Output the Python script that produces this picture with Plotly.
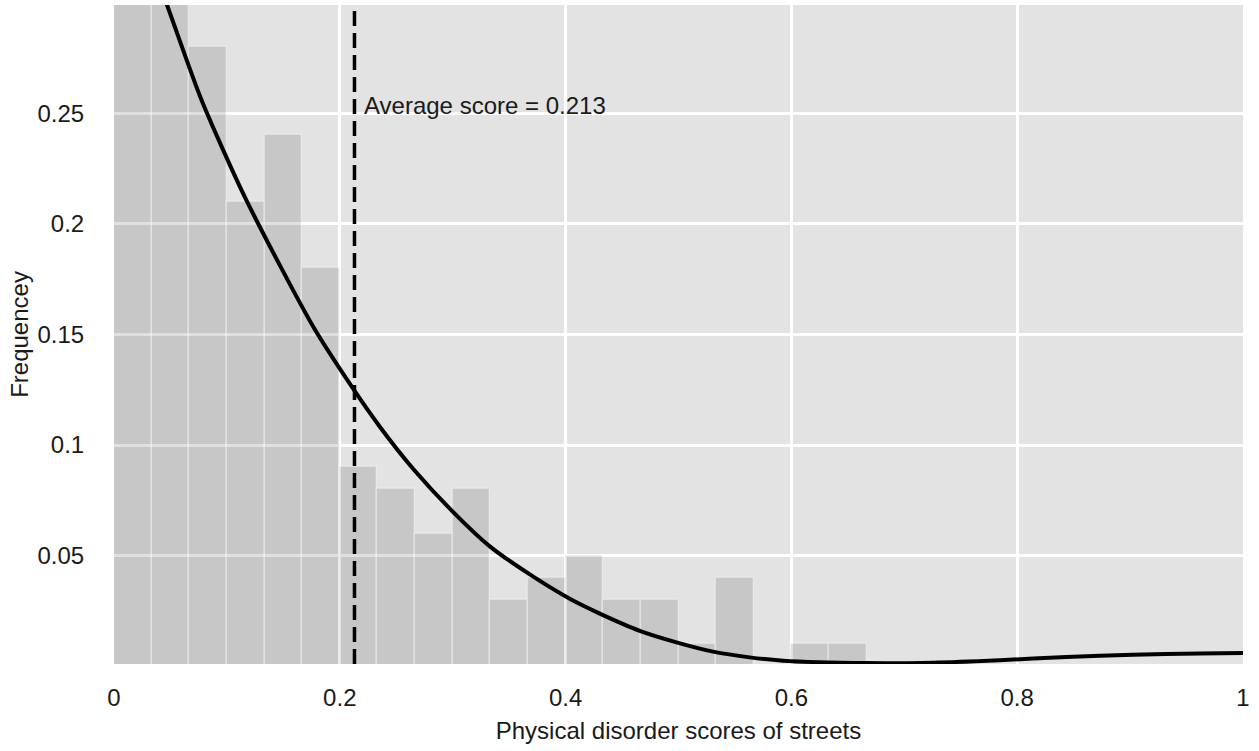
import plotly.graph_objects as go

# ---- data ----
bin_width = 1 / 30
bin_starts = [i / 30 for i in range(30)]
frequency = [0.36, 0.33, 0.28, 0.21, 0.24, 0.18, 0.09, 0.08, 0.06, 0.08,
             0.03, 0.04, 0.05, 0.03, 0.03, 0.01, 0.04, 0.0, 0.01, 0.01,
             0, 0, 0, 0, 0, 0, 0, 0, 0, 0]

curve_x = [0.0, 0.047, 0.0777, 0.117, 0.1765, 0.2118, 0.2356, 0.2649,
           0.2989, 0.3329, 0.3683, 0.4037, 0.4303, 0.4657, 0.4982, 0.5306,
           0.5631, 0.5927, 0.6665, 0.7255, 0.7846, 0.8437, 0.9027, 0.9617,
           1.0]
curve_y = [0.365, 0.299, 0.2558, 0.211, 0.1535, 0.1255, 0.1082, 0.0893,
           0.0705, 0.0542, 0.0415, 0.0305, 0.0238, 0.0160, 0.0108, 0.0066,
           0.0040, 0.0025, 0.0014, 0.0016, 0.0027, 0.0042, 0.0052, 0.0058,
           0.0060]

mean_score = 0.213
x_ticks = [0, 0.2, 0.4, 0.6, 0.8, 1]
x_tick_text = ["0", "0.2", "0.4", "0.6", "0.8", "1"]
y_ticks = [0.05, 0.1, 0.15, 0.2, 0.25]
y_tick_text = ["0.05", "0.1", "0.15", "0.2", "0.25"]

FONT = "Liberation Sans, Arial, sans-serif"

fig = go.Figure()
fig.add_trace(go.Bar(
    x=[s + bin_width / 2 for s in bin_starts],
    y=frequency,
    width=bin_width,
    marker=dict(color="rgba(0,0,0,0.12)",
                line=dict(color="rgba(255,255,255,0.35)", width=1.5)),
    showlegend=False,
    hoverinfo="skip",
))
fig.add_trace(go.Scatter(
    x=curve_x, y=curve_y, mode="lines",
    line=dict(color="black", width=4, shape="spline", smoothing=0.7),
    showlegend=False,
))
fig.add_shape(type="line", x0=mean_score, x1=mean_score, y0=0, y1=1,
              xref="x", yref="paper",
              line=dict(color="black", width=3.5, dash="15px,7px"))
fig.add_annotation(x=mean_score + 0.007, y=0.2536, xref="x", yref="y",
                   text=f"Average score = {mean_score:.3f}", showarrow=False,
                   xanchor="left", yanchor="middle",
                   font=dict(family=FONT, size=24, color="#1a1a1a"))

fig.update_layout(
    width=1259, height=751,
    margin=dict(l=114, r=16, t=5, b=87),
    paper_bgcolor="white",
    plot_bgcolor="#e3e3e3",
    bargap=0,
    font=dict(family=FONT, size=24, color="#1a1a1a"),
    xaxis=dict(range=[0, 1], tickvals=x_ticks, ticktext=x_tick_text,
               showgrid=True, gridcolor="white", gridwidth=3,
               zeroline=False, showline=False,
               ticks="outside", ticklen=12, tickcolor="rgba(0,0,0,0)",
               title=dict(text="Physical disorder scores of streets",
                          font=dict(size=24), standoff=12)),
    yaxis=dict(range=[0.001, 0.299], tickvals=y_ticks, ticktext=y_tick_text,
               showgrid=True, gridcolor="white", gridwidth=3,
               zeroline=False, showline=False,
               ticks="outside", ticklen=24, tickcolor="rgba(0,0,0,0)",
               title=dict(text="Frequencey", font=dict(size=24), standoff=2)),
)

fig.write_html("out.html", config={"displayModeBar": False},
               post_script="document.body.style.margin='0';")
